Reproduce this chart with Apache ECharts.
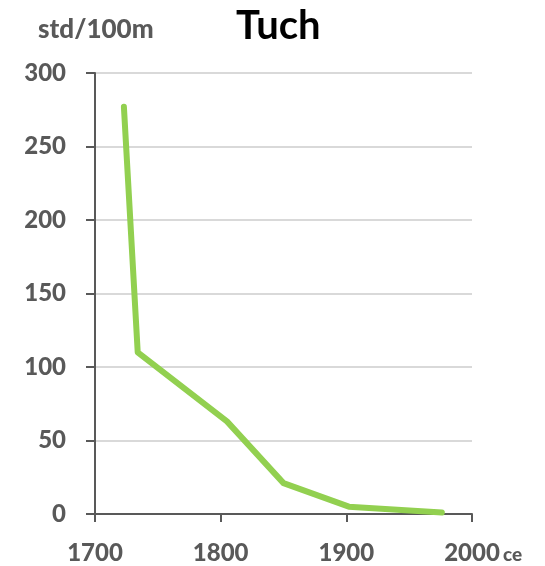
<!DOCTYPE html>
<html>
<head>
<meta charset="utf-8">
<script src="https://cdn.jsdelivr.net/npm/echarts@6/dist/echarts.min.js"></script>
<style>
html,body{margin:0;padding:0;background:#fff;}
#c{width:545px;height:566px;}
</style>
</head>
<body>
<div id="c"></div>
<script>
const years = [1723, 1734, 1805, 1850, 1902, 1976];
const values = [277, 110, 63, 21, 5, 1];
const xTicks = [1700, 1800, 1900, 2000];
const yTicks = [0, 50, 100, 150, 200, 250, 300];
const title = 'Tuch';
const yUnit = 'std/100m';
const xUnit = 'ce';

const chart = echarts.init(document.getElementById('c'), null, {renderer: 'canvas'});
const axisColor = '#595959';
const font = 'Lato';
chart.setOption({
  animation: false,
  backgroundColor: '#ffffff',
  grid: {left: 95, right: 73, top: 73, bottom: 52, containLabel: false},
  xAxis: {
    type: 'value', min: xTicks[0], max: xTicks[xTicks.length - 1], interval: 100,
    axisLine: {show: true, lineStyle: {color: axisColor, width: 2}},
    axisTick: {show: true, length: 8, lineStyle: {color: axisColor, width: 2}},
    splitLine: {show: false},
    axisLabel: {color: axisColor, fontFamily: font, fontWeight: 900, fontSize: 24, margin: 27,
      formatter: v => String(v)}
  },
  yAxis: {
    type: 'value', min: yTicks[0], max: yTicks[yTicks.length - 1], interval: 50,
    axisLine: {show: true, lineStyle: {color: axisColor, width: 2}},
    axisTick: {show: true, length: 9, lineStyle: {color: axisColor, width: 2}},
    splitLine: {show: true, lineStyle: {color: '#d9d9d9', width: 2}},
    axisLabel: {color: axisColor, fontFamily: font, fontWeight: 900, fontSize: 24, margin: 29}
  },
  graphic: [
    {type: 'text', left: 236, top: 6, style: {text: title, fill: '#000', font: 'bold 40px Lato'}},
    {type: 'text', left: 38, top: 17, style: {text: yUnit, fill: axisColor, font: '900 26px Lato'}},
    {type: 'text', left: 503, top: 545, style: {text: xUnit, fill: axisColor, font: '900 19px Lato'}}
  ],
  series: [{
    type: 'line',
    data: years.map((y, i) => [y, values[i]]),
    showSymbol: false,
    symbol: 'none',
    lineStyle: {color: '#92D050', width: 6, cap: 'round', join: 'round'},
    z: 3
  }]
});
</script>
</body>
</html>
